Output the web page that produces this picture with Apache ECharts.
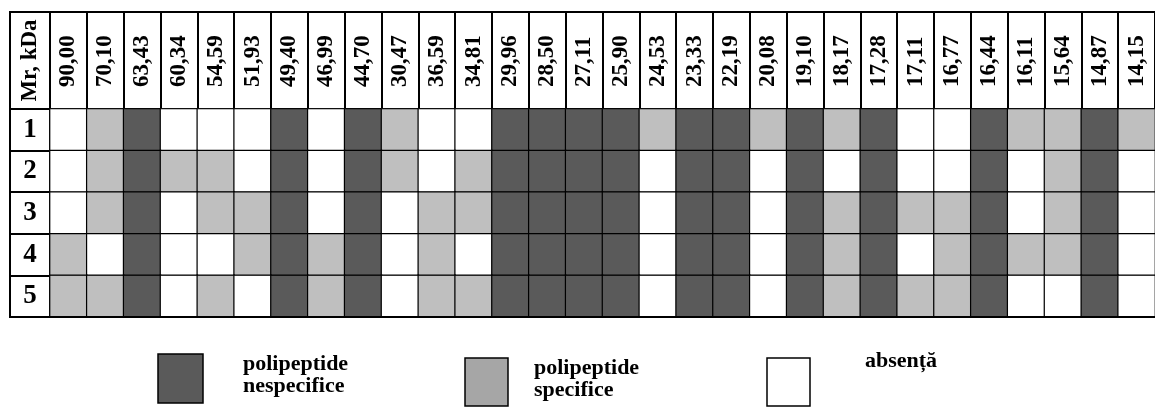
<!DOCTYPE html>
<html>
<head>
<meta charset="utf-8">
<script src="https://cdn.jsdelivr.net/npm/echarts@6/dist/echarts.min.js"></script>
<style>
  html, body { margin: 0; padding: 0; background: #fff; }
  #chart { width: 1155px; height: 407px; }
</style>
</head>
<body>
<div id="chart"></div>
<script>
// Molecular masses (kDa) of the polypeptide bands, one table column each
const mrLabels = ['90,00','70,10','63,43','60,34','54,59','51,93','49,40','46,99','44,70','30,47',
                  '36,59','34,81','29,96','28,50','27,11','25,90','24,53','23,33','22,19','20,08',
                  '19,10','18,17','17,28','17,11','16,77','16,44','16,11','15,64','14,87','14,15'];
// Sample rows
const lanes = ['1','2','3','4','5'];
// Band presence per sample: 2 = nespecifice, 1 = specifice, 0 = absență
const lane1 = [0,1,2,0,0,0,2,0,2,1, 0,0,2,2,2,2,1,2,2,1, 2,1,2,0,0,2,1,1,2,1];
const lane2 = [0,1,2,1,1,0,2,0,2,1, 0,1,2,2,2,2,0,2,2,0, 2,0,2,0,0,2,0,1,2,0];
const lane3 = [0,1,2,0,1,1,2,0,2,0, 1,1,2,2,2,2,0,2,2,0, 2,1,2,1,1,2,0,1,2,0];
const lane4 = [1,0,2,0,0,1,2,1,2,0, 1,0,2,2,2,2,0,2,2,0, 2,1,2,0,1,2,1,1,2,0];
const lane5 = [1,1,2,0,1,0,2,1,2,0, 1,1,2,2,2,2,0,2,2,0, 2,1,2,1,1,2,0,0,2,0];
const legendNames = ['polipeptide\nnespecifice', 'polipeptide\nspecifice', 'absență'];

const laneValues = [lane1, lane2, lane3, lane4, lane5];
const cells = [];
laneValues.forEach((row, r) => row.forEach((v, c) => cells.push([c, r, v])));

const FONT = '"Liberation Serif", "Times New Roman", serif';
const DARK = '#5a5a5a', LIGHT = '#bfbfbf', LEGEND_LIGHT = '#a6a6a6';

// table geometry
const TABLE_LEFT = 10, TABLE_TOP = 12;
const GRID_LEFT = 50, GRID_TOP = 109, GRID_H = 208, GRID_W = 1116;
const HEADER_H = GRID_TOP - TABLE_TOP;
const LABEL_COL_W = GRID_LEFT - TABLE_LEFT;

const chart = echarts.init(document.getElementById('chart'), null, { renderer: 'canvas' });

function legendItem(x, y, w, h, fill, textX, textY, text) {
  return [
    { type: 'rect', shape: { x: x, y: y, width: w, height: h },
      style: { fill: fill, stroke: '#000', lineWidth: 1.5 } },
    { type: 'text', x: textX, y: textY,
      style: { text: text, font: 'bold 22px ' + FONT, fill: '#000',
               lineHeight: 22, verticalAlign: 'top', align: 'left' } }
  ];
}

chart.setOption({
  animation: false,
  backgroundColor: '#fff',
  grid: { left: GRID_LEFT, top: GRID_TOP, width: GRID_W, height: GRID_H },
  xAxis: {
    type: 'category',
    data: mrLabels,
    position: 'top',
    axisLine: { show: true, lineStyle: { color: '#000', width: 2 } },
    axisTick: { show: true, interval: 0, length: HEADER_H, lineStyle: { color: '#000', width: 2 } },
    axisLabel: {
      interval: 0, rotate: -90, margin: 22,
      fontFamily: FONT, fontWeight: 'bold', fontSize: 23, color: '#000'
    },
    splitLine: { show: false }
  },
  yAxis: {
    type: 'category',
    data: lanes,
    inverse: true,
    axisLine: { show: true, lineStyle: { color: '#000', width: 2 } },
    axisTick: { show: true, interval: 0, length: LABEL_COL_W, lineStyle: { color: '#000', width: 2 } },
    axisLabel: {
      interval: 0, margin: 20, align: 'center',
      fontFamily: FONT, fontWeight: 'bold', fontSize: 27, color: '#000'
    },
    splitLine: { show: false }
  },
  visualMap: {
    type: 'piecewise', show: false, dimension: 2,
    pieces: [
      { value: 2, color: DARK },
      { value: 1, color: LIGHT },
      { value: 0, color: '#fff' }
    ]
  },
  series: [{
    type: 'heatmap',
    data: cells,
    itemStyle: { borderColor: '#000', borderWidth: 1.2 },
    emphasis: { disabled: true }
  }],
  graphic: [
    // outer frame of the table
    { type: 'rect', z: 100,
      shape: { x: TABLE_LEFT, y: TABLE_TOP, width: GRID_LEFT + GRID_W - TABLE_LEFT, height: GRID_TOP + GRID_H - TABLE_TOP },
      style: { fill: null, stroke: '#000', lineWidth: 2 } },
    // corner header cell
    { type: 'text', z: 100, x: TABLE_LEFT + LABEL_COL_W / 2, y: TABLE_TOP + HEADER_H / 2, rotation: Math.PI / 2,
      style: { text: 'Mr, kDa', font: 'bold 23px ' + FONT, fill: '#000', align: 'center', verticalAlign: 'middle' } },
    ...legendItem(158, 354, 45, 49, DARK, 243, 353, legendNames[0]),
    ...legendItem(465, 358, 43, 48, LEGEND_LIGHT, 534, 357, legendNames[1]),
    ...legendItem(767, 358, 43, 48, '#fff', 865, 350, legendNames[2])
  ]
});
</script>
</body>
</html>
